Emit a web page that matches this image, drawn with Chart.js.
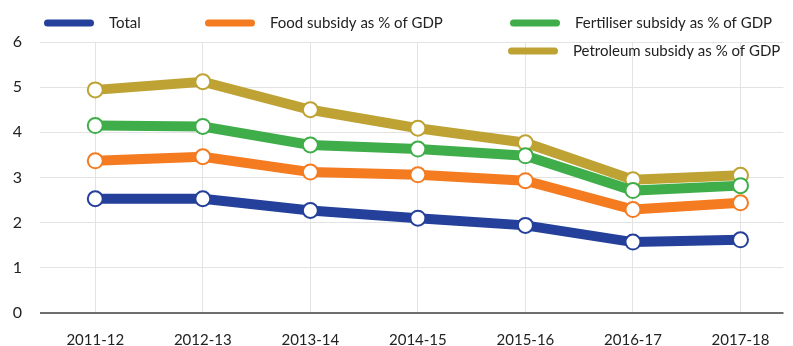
<!DOCTYPE html>
<html>
<head>
<meta charset="utf-8">
<script src="https://cdn.jsdelivr.net/npm/chart.js@4"></script>
<style>
  html, body { margin: 0; padding: 0; background: #fff; }
  #wrap { width: 793px; height: 346px; position: relative; }
</style>
</head>
<body>
<div id="wrap"><canvas id="c" width="793" height="346"></canvas></div>
<script>
// Subsidies as % of GDP, by fiscal year
const years = ['2011-12', '2012-13', '2013-14', '2014-15', '2015-16', '2016-17', '2017-18'];
const total      = [2.53, 2.53, 2.27, 2.10, 1.94, 1.57, 1.62];
const food       = [3.37, 3.46, 3.12, 3.06, 2.93, 2.29, 2.44];
const fertiliser = [4.15, 4.13, 3.72, 3.63, 3.48, 2.71, 2.82];
const petroleum  = [4.94, 5.12, 4.50, 4.09, 3.77, 2.95, 3.05];
const yTicks = [0, 1, 2, 3, 4, 5, 6];

const seriesNames = ['Total', 'Food subsidy as % of GDP', 'Fertiliser subsidy as % of GDP', 'Petroleum subsidy as % of GDP'];
const seriesValues = [total, food, fertiliser, petroleum];
const seriesColors = ['#24409a', '#f47b20', '#3fae4a', '#bea334'];

const FONT = 'Lato, "Open Sans", sans-serif';
Chart.defaults.font.family = FONT;
Chart.defaults.font.size = 15;
Chart.defaults.color = '#222';

const toPoints = vals => vals.map((v, i) => ({ x: i, y: v }));

// Legend drawn over the top of the plot, two rows
const overlayLegend = {
  id: 'overlayLegend',
  afterDraw(chart) {
    const ctx = chart.ctx;
    const slots = [
      { x: 44, y: 23 }, { x: 205, y: 23 }, { x: 510, y: 23 }, { x: 508, y: 51 }
    ];
    ctx.save();
    chart.data.datasets.forEach((ds, i) => {
      const s = slots[i];
      ctx.strokeStyle = ds.borderColor;
      ctx.lineWidth = 7;
      ctx.lineCap = 'round';
      ctx.beginPath();
      ctx.moveTo(s.x + 3.5, s.y);
      ctx.lineTo(s.x + 46.5, s.y);
      ctx.stroke();
      ctx.fillStyle = '#222';
      ctx.font = '15px ' + FONT;
      ctx.textBaseline = 'middle';
      ctx.textAlign = 'left';
      ctx.fillText(ds.label, s.x + 65, s.y);
    });
    ctx.restore();
  }
};

new Chart(document.getElementById('c'), {
  type: 'line',
  data: {
    datasets: seriesNames.map((name, i) => ({
      label: name,
      data: toPoints(seriesValues[i]),
      borderColor: seriesColors[i],
      backgroundColor: seriesColors[i],
      borderWidth: 10,
      tension: 0,
      pointRadius: 7.5,
      pointBorderWidth: 2,
      pointBackgroundColor: '#fff',
      pointBorderColor: seriesColors[i],
      pointHoverRadius: 7.5
    }))
  },
  options: {
    responsive: false,
    animation: false,
    devicePixelRatio: 1,
    layout: { padding: { top: 42, right: 0, left: 0, bottom: 0 } },
    plugins: { legend: { display: false }, tooltip: { enabled: false } },
    scales: {
      x: {
        type: 'linear',
        min: -0.514,
        max: 6.4,
        afterBuildTicks: axis => { axis.ticks = years.map((_, i) => ({ value: i })); },
        afterFit: axis => { axis.height = 33; },
        ticks: {
          autoSkip: false,
          maxRotation: 0,
          padding: 18,
          callback: v => years[v]
        },
        grid: { color: '#e3e3e3', lineWidth: 1, drawTicks: false },
        border: { display: false }
      },
      y: {
        min: 0,
        max: 6,
        afterBuildTicks: axis => { axis.ticks = yTicks.map(v => ({ value: v })); },
        afterFit: axis => { axis.width = 40; },
        ticks: { padding: 18, font: { size: 16 } },
        grid: {
          drawTicks: false,
          color: c => (c.tick && c.tick.value === 0 ? '#6e6e6e' : '#e3e3e3'),
          lineWidth: c => (c.tick && c.tick.value === 0 ? 2 : 1)
        },
        border: { display: false }
      }
    }
  },
  plugins: [overlayLegend]
});
</script>
</body>
</html>
